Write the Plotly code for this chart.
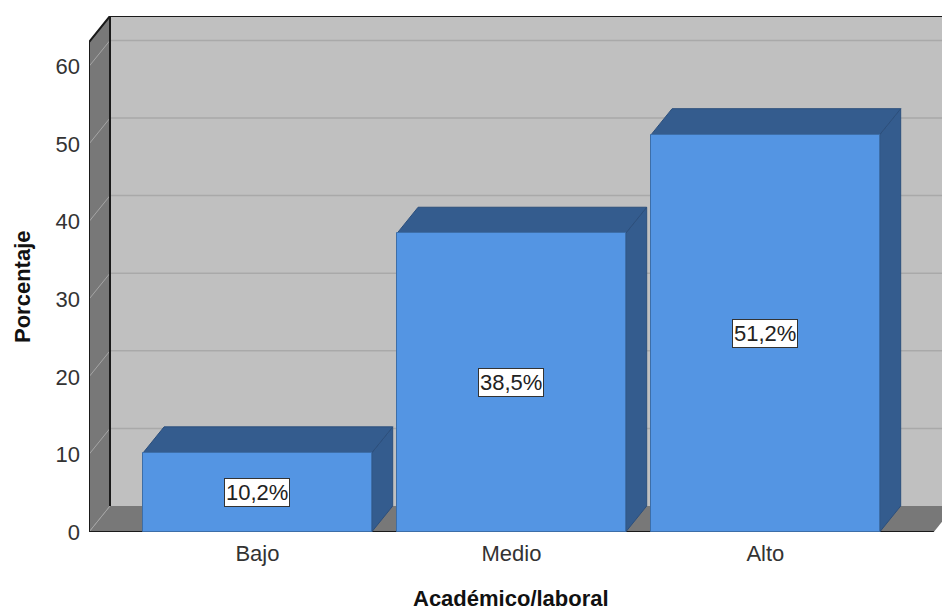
import plotly.graph_objects as go

# ---- data ----
categories = ["Bajo", "Medio", "Alto"]
percentages = [10.2, 38.5, 51.2]
y_ticks = [0, 10, 20, 30, 40, 50, 60]
x_title = "Académico/laboral"
y_title = "Porcentaje"

# ---- geometry of the pseudo-3D frame (in pixels, converted to data units) ----
W, H = 942, 612
ML, MR, MT, MB = 89, 0, 16, 80
plot_w = W - ML - MR
plot_h = H - MT - MB
px_per_x = 254.0          # pixels per category step
px_per_y = 7.76           # pixels per percentage point
x_min = -0.663
x_max = x_min + plot_w / px_per_x
y_max = plot_h / px_per_y
dx = 21 / px_per_x        # depth offset, horizontal
dy = 26 / px_per_y        # depth offset, vertical
front_end = len(categories) - 1 - x_min
bar_w = 0.9
half = bar_w / 2

FRONT = "#5495e3"
DARK = "#345c8e"
WALL = "#c0c0c0"
SIDE = "#787878"
GRID_BACK = "#a9a9a9"
GRID_SIDE = "#a5a5a5"
FONT = "Liberation Sans, Arial, sans-serif"
FS = 22


def poly(pts):
    return "M " + " L ".join(f"{x},{y}" for x, y in pts) + " Z"


def line_path(pts):
    return "M " + " L ".join(f"{x},{y}" for x, y in pts)


shapes = []
# back wall
shapes.append(dict(type="rect", xref="x", yref="y", x0=x_min + dx, x1=x_max + 1,
                   y0=dy, y1=y_max + 1, fillcolor=WALL, line_width=0, layer="below"))
# left wall
shapes.append(dict(type="path", xref="x", yref="y",
                   path=poly([(x_min, 0), (x_min + dx, dy), (x_min + dx, y_max), (x_min, y_max - dy)]),
                   fillcolor=SIDE, line_width=0, layer="below"))
# floor
shapes.append(dict(type="path", xref="x", yref="y",
                   path=poly([(x_min, 0), (front_end, 0), (front_end + dx, dy), (x_min + dx, dy)]),
                   fillcolor=SIDE, line_width=0, layer="below"))
# grid lines on back wall and left wall
for v in y_ticks:
    if v > 0:
        shapes.append(dict(type="line", xref="x", yref="y", x0=x_min + dx, x1=x_max + 1,
                           y0=v + dy, y1=v + dy, line=dict(color=GRID_BACK, width=1.5), layer="below"))
    shapes.append(dict(type="line", xref="x", yref="y", x0=x_min, x1=x_min + dx,
                       y0=v, y1=v + dy, line=dict(color=GRID_SIDE, width=1), layer="below"))
# frame edges
shapes.append(dict(type="path", xref="x", yref="y",
                   path=line_path([(x_min, 0), (x_min, y_max - dy), (x_min + dx, y_max), (x_max + 1, y_max)]),
                   line=dict(color="#1a1a1a", width=2), layer="below"))
shapes.append(dict(type="line", xref="x", yref="y", x0=x_min + dx, x1=x_min + dx,
                   y0=dy, y1=y_max, line=dict(color="#1a1a1a", width=2), layer="below"))
shapes.append(dict(type="line", xref="x", yref="y", x0=x_min, x1=front_end,
                   y0=-0.15, y1=-0.15, line=dict(color="#9a9a9a", width=2), layer="below"))
shapes.append(dict(type="line", xref="x", yref="y", x0=x_min, x1=front_end,
                   y0=0, y1=0, line=dict(color="#1a1a1a", width=2), layer="below"))

# top and side faces of each bar
for i, v in enumerate(percentages):
    shapes.append(dict(type="path", xref="x", yref="y",
                       path=poly([(i + half, 0), (i + half + dx, dy), (i + half + dx, v + dy), (i + half, v)]),
                       fillcolor=DARK, line=dict(color="#2c4f7c", width=1), layer="below"))
    shapes.append(dict(type="path", xref="x", yref="y",
                       path=poly([(i - half, v), (i + half, v), (i + half + dx, v + dy), (i - half + dx, v + dy)]),
                       fillcolor=DARK, line=dict(color="#2c4f7c", width=1), layer="below"))

fig = go.Figure()
fig.add_trace(go.Bar(
    x=list(range(len(categories))), y=percentages, width=bar_w,
    marker=dict(color=FRONT, line=dict(color="#3d6ea8", width=1)),
    hoverinfo="skip", showlegend=False,
))

annotations = []
for i, v in enumerate(percentages):
    annotations.append(dict(
        x=i, y=v / 2, xref="x", yref="y", showarrow=False,
        text=f"{v:.1f}%".replace(".", ","),
        font=dict(family=FONT, size=FS, color="#222"),
        bgcolor="white", bordercolor="#333", borderwidth=1, borderpad=1,
    ))
front_top = y_max - dy
annotations.append(dict(
    x=(x_min + front_end) / 2, y=(H - 14 - (H - MB)) / -plot_h, xref="x", yref="paper",
    showarrow=False, text=f"<b>{x_title}</b>", yanchor="middle",
    font=dict(family=FONT, size=FS, color="#111"),
))
annotations.append(dict(
    x=(22 - ML) / plot_w, y=front_top / 2, xref="paper", yref="y",
    showarrow=False, text=f"<b>{y_title}</b>", textangle=-90, xanchor="center",
    font=dict(family=FONT, size=FS, color="#111"),
))

fig.update_layout(
    width=W, height=H,
    margin=dict(l=ML, r=MR, t=MT, b=MB, pad=0),
    paper_bgcolor="white", plot_bgcolor="white",
    shapes=shapes, annotations=annotations,
    bargap=0,
    xaxis=dict(range=[x_min, x_max], tickvals=list(range(len(categories))), ticktext=categories,
               showgrid=False, zeroline=False, showline=False, ticks="", ticklabelstandoff=6,
               tickfont=dict(family=FONT, size=FS, color="#333"), fixedrange=True),
    yaxis=dict(range=[0, y_max], tickvals=y_ticks, showgrid=False, zeroline=False,
               showline=False, ticks="", ticklabelstandoff=8,
               tickfont=dict(family=FONT, size=FS, color="#333"), fixedrange=True),
)

fig.write_html("out.html", config={"displayModeBar": False})
